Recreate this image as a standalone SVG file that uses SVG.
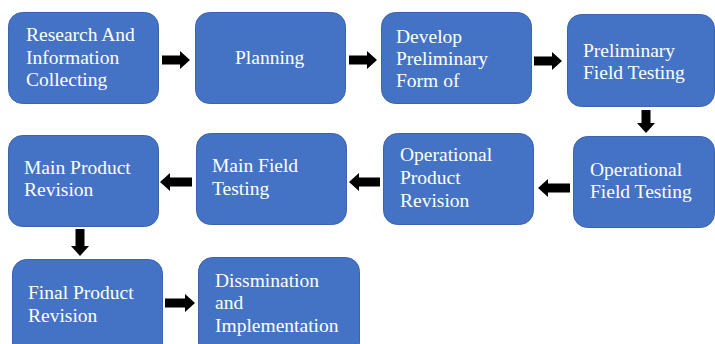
<svg xmlns="http://www.w3.org/2000/svg" width="715" height="344" viewBox="0 0 715 344">
<style>
.box{fill:#4472C4;stroke:#3A64AE;stroke-width:1}
.t{font-family:"Liberation Serif","Times New Roman",serif;font-size:19.5px;fill:#ffffff}
.arr{fill:#000000}
</style>
<rect width="715" height="344" fill="#ffffff"/>
<g id="n1"><rect class="box" x="8.5" y="12.5" width="150" height="91" rx="14"/>
<text class="t" x="26" y="41">Research And</text><text class="t" x="26" y="63.5">Information</text><text class="t" x="26" y="86">Collecting</text></g>
<g id="n2"><rect class="box" x="195.5" y="12.5" width="150" height="91" rx="14"/>
<text class="t" x="235" y="64">Planning</text></g>
<g id="n3"><rect class="box" x="381.5" y="12.5" width="150" height="91" rx="14"/>
<text class="t" x="396" y="43">Develop</text><text class="t" x="396" y="65">Preliminary</text><text class="t" x="396" y="87">Form of</text></g>
<g id="n4"><rect class="box" x="567.5" y="14.5" width="147" height="92" rx="14"/>
<text class="t" x="583" y="57">Preliminary</text><text class="t" x="583" y="79">Field Testing</text></g>
<g id="n5"><rect class="box" x="573.5" y="136.5" width="141" height="91" rx="14"/>
<text class="t" x="590" y="176">Operational</text><text class="t" x="590" y="198">Field Testing</text></g>
<g id="n6"><rect class="box" x="383.5" y="133.5" width="150" height="91" rx="14"/>
<text class="t" x="400" y="161">Operational</text><text class="t" x="400" y="184">Product</text><text class="t" x="400" y="207">Revision</text></g>
<g id="n7"><rect class="box" x="196.5" y="133.5" width="150" height="91" rx="14"/>
<text class="t" x="212" y="172">Main Field</text><text class="t" x="212" y="195">Testing</text></g>
<g id="n8"><rect class="box" x="8.5" y="135.5" width="150" height="91" rx="14"/>
<text class="t" x="24" y="174">Main Product</text><text class="t" x="24" y="196">Revision</text></g>
<g id="n9"><rect class="box" x="12.5" y="259.5" width="150" height="100" rx="14"/>
<text class="t" x="28" y="299">Final Product</text><text class="t" x="28" y="322">Revision</text></g>
<g id="n10"><rect class="box" x="198.5" y="257.5" width="161" height="100" rx="14"/>
<text class="t" x="215" y="287">Dissmination</text><text class="t" x="215" y="309">and</text><text class="t" x="215" y="332">Implementation</text></g>
<g id="connectors" class="arr">
<polygon points="162,55.5 180,55.5 180,51 190,60 180,69 180,64.5 162,64.5"/>
<polygon points="349,55.5 367,55.5 367,51 377,60 367,69 367,64.5 349,64.5"/>
<polygon points="534,56.5 552,56.5 552,52 562,61 552,70 552,65.5 534,65.5"/>
<polygon points="641.5,110 650.5,110 650.5,123 655,123 646,133 637,123 641.5,123"/>
<polygon points="570,183.5 548,183.5 548,179 538,188 548,197 548,192.5 570,192.5"/>
<polygon points="380,177.5 359,177.5 359,173 349,182 359,191 359,186.5 380,186.5"/>
<polygon points="192,177.5 170,177.5 170,173 160,182 170,191 170,186.5 192,186.5"/>
<polygon points="75.5,229 84.5,229 84.5,246 89,246 80,256 71,246 75.5,246"/>
<polygon points="165,298.5 185,298.5 185,294 195,303 185,312 185,307.5 165,307.5"/>
</g>
</svg>
